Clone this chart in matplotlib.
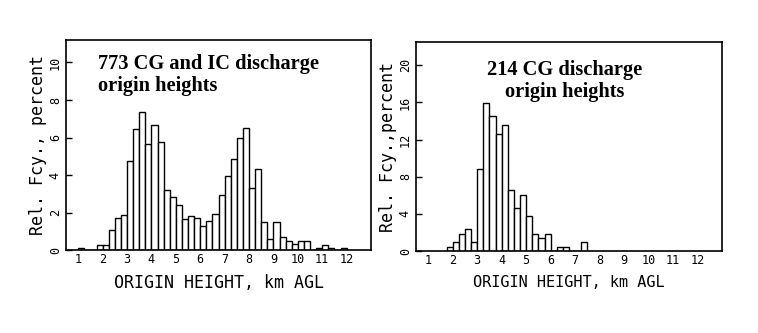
import matplotlib.pyplot as plt

# bin starts (km AGL, 0.25 km bins) and relative frequency (percent)
left_bins = [1.00, 1.25, 1.50, 1.75, 2.00, 2.25, 2.50, 2.75, 3.00, 3.25, 3.50, 3.75,
             4.00, 4.25, 4.50, 4.75, 5.00, 5.25, 5.50, 5.75, 6.00, 6.25, 6.50, 6.75,
             7.00, 7.25, 7.50, 7.75, 8.00, 8.25, 8.50, 8.75, 9.00, 9.25, 9.50, 9.75,
             10.00, 10.25, 10.50, 10.75, 11.00, 11.25, 11.50, 11.75]
left_pct = [0.13, 0.0, 0.0, 0.26, 0.26, 1.07, 1.69, 1.85, 4.75, 6.45, 7.35, 5.65,
            6.68, 5.77, 3.21, 2.82, 2.42, 1.64, 1.80, 1.71, 1.27, 1.53, 1.93, 2.94,
            3.94, 4.83, 6.00, 6.52, 3.32, 4.30, 1.50, 0.60, 1.50, 0.71, 0.46, 0.32,
            0.46, 0.46, 0.0, 0.13, 0.26, 0.13, 0.0, 0.13]

right_bins = [1.75, 2.00, 2.25, 2.50, 2.75, 3.00, 3.25, 3.50, 3.75, 4.00, 4.25, 4.50,
              4.75, 5.00, 5.25, 5.50, 5.75, 6.00, 6.25, 6.50, 6.75, 7.00, 7.25]
right_pct = [0.47, 0.93, 1.87, 2.34, 0.93, 8.88, 15.89, 14.49, 12.62, 13.55, 6.54, 4.67,
             6.07, 3.74, 1.87, 1.40, 1.87, 0.0, 0.47, 0.47, 0.0, 0.0, 0.93]

xticks = list(range(1, 13))
left_yticks = [0, 2, 4, 6, 8, 10]
right_yticks = [0, 4, 8, 12, 16, 20]

mono = "DejaVu Sans Mono"
serif = "Liberation Serif"

fig = plt.figure(figsize=(7.58, 3.33), dpi=100)
ax1 = fig.add_axes([0.0871, 0.2492, 0.4024, 0.6307])
ax2 = fig.add_axes([0.5488, 0.2462, 0.4037, 0.6276])

panels = [
    (ax1, left_bins, left_pct, left_yticks, 11.2, "Rel. Fcy., percent", 12),
    (ax2, right_bins, right_pct, right_yticks, 22.5, "Rel. Fcy.,percent", 11),
]

for ax, bins, pct, yt, ytop, ylab, xfs in panels:
    ax.bar(bins, pct, width=0.25, align="edge", color="white",
           edgecolor="black", linewidth=1.0)
    ax.set_xlim(0.5, 13)
    ax.set_ylim(0, ytop)
    ax.set_xticks(xticks)
    ax.set_xticklabels([str(t) for t in xticks], fontfamily=mono, fontsize=8.5)
    ax.set_yticks(yt)
    ax.set_yticklabels([str(t) for t in yt], fontfamily=mono, fontsize=8.5,
                       rotation=90, va="center")
    ax.tick_params(axis="x", length=0, pad=2)
    ax.tick_params(axis="y", direction="in", length=4, width=1, pad=3)
    for s in ax.spines.values():
        s.set_linewidth(1.2)
    ax.set_xlabel("ORIGIN HEIGHT, km AGL", fontfamily=mono, fontsize=xfs, labelpad=6)
    ax.set_ylabel(ylab, fontfamily=mono, fontsize=12, labelpad=1)

ax1.text(0.105, 0.935, "773 CG and IC discharge\norigin heights",
         transform=ax1.transAxes, ha="left", va="top",
         fontfamily=serif, fontweight="bold", fontsize=14.7, linespacing=1.15)
ax2.text(0.487, 0.915, "214 CG discharge\norigin heights",
         transform=ax2.transAxes, ha="center", va="top", multialignment="center",
         fontfamily=serif, fontweight="bold", fontsize=14.7, linespacing=1.15)

fig.savefig("out.png", dpi=100)
